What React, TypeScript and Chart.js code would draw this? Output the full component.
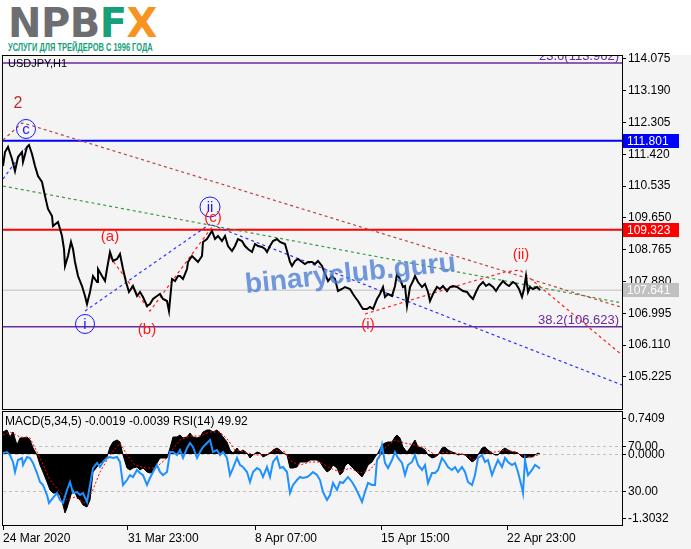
import { useEffect, useRef } from 'react';
import { Chart, registerables } from 'chart.js';

Chart.register(...registerables);

const FONT = '"Liberation Sans", Arial, sans-serif';
const PURPLE = '#6a2c9c';

// x values are H1 bar numbers counted from the first bar (24 Mar 2020)
const timeTickBars = [0, 125, 252, 378, 504];
const timeTickLabels = ['24 Mar 2020', '31 Mar 23:00', '8 Apr 07:00', '15 Apr 15:00', '22 Apr 23:00'];

const priceTicks = [114.075, 113.19, 112.305, 111.42, 110.535, 109.65, 108.765, 107.88, 106.995, 106.11, 105.225];

// USDJPY H1 close
const closeBars = [
  0, 2, 5, 9, 12, 15, 19, 20, 24, 26,
  29, 32, 35, 39, 42, 45, 49, 50, 55, 59,
  61, 62, 65, 68, 70, 72, 75, 79, 82, 84,
  87, 90, 94, 95, 99, 102, 104, 107, 110, 114,
  117, 120, 123, 126, 130, 134, 137, 140, 144, 147,
  150, 154, 157, 160, 164, 166, 169, 172, 175, 177,
  180, 184, 185, 189, 192, 195, 199, 200, 204, 207,
  209, 212, 215, 219, 222, 225, 229, 232, 235, 239,
  242, 245, 249, 252, 255, 259, 262, 264, 267, 270,
  274, 277, 282, 284, 287, 289, 292, 295, 299, 302,
  305, 309, 312, 315, 319, 322, 325, 329, 332, 335,
  339, 342, 347, 350, 352, 355, 358, 360, 364, 367,
  370, 374, 377, 380, 382, 385, 389, 392, 394, 397,
  400, 402, 404, 407, 410, 412, 415, 419, 422, 425,
  427, 430, 434, 437, 440, 444, 447, 450, 454, 457,
  460, 464, 467, 470, 473, 476, 480, 483, 486, 490,
  493, 496, 500, 503, 506, 510, 513, 516, 519, 521,
  523, 525, 527, 530, 534, 537,
];
const closePrices = [
  111.097, 111.487, 111.626, 111.292, 110.958, 111.347, 111.487, 111.208, 111.626, 111.681,
  111.431, 111.097, 110.819, 110.652, 110.262, 109.9, 109.705, 109.427, 109.538, 109.149,
  108.787, 108.314, 108.592, 108.982, 108.787, 108.425, 108.035, 107.757, 107.479, 107.256,
  107.59, 108.035, 107.868, 108.23, 108.035, 107.896, 108.23, 108.703, 108.453, 108.509,
  108.648, 108.23, 107.868, 107.59, 107.757, 107.479, 107.59, 107.451, 107.2, 107.256,
  107.395, 107.479, 107.534, 107.395, 107.34, 107.061, 107.952, 107.896, 108.035, 108.035,
  107.952, 108.23, 108.425, 108.592, 108.509, 108.425, 108.592, 108.982, 109.065, 109.204,
  109.288, 109.065, 109.149, 109.01, 109.149, 108.87, 108.731, 108.87, 109.065, 109.01,
  108.87, 108.787, 108.703, 108.926, 108.87, 108.843, 108.787, 108.703, 108.87, 109.01,
  109.065, 108.982, 108.926, 108.731, 108.425, 108.314, 108.453, 108.509, 108.425, 108.369,
  108.425, 108.425, 108.369, 108.453, 108.314, 108.091, 107.896, 108.035, 107.952, 107.618,
  107.674, 107.729, 107.674, 107.534, 107.451, 107.34, 107.2, 107.117, 107.117, 107.173,
  107.117, 107.395, 107.534, 107.729, 107.451, 107.534, 107.479, 107.757, 108.091, 107.952,
  107.729, 107.757, 107.2, 107.729, 107.896, 108.035, 107.868, 107.729, 107.813, 107.59,
  107.34, 107.534, 107.729, 107.674, 107.757, 107.618, 107.729, 107.757, 107.729, 107.674,
  107.618, 107.59, 107.479, 107.395, 107.59, 107.757, 107.868, 107.757, 107.813, 107.729,
  107.618, 107.757, 107.896, 107.813, 107.757, 107.868, 107.813, 107.674, 107.451, 107.674,
  108.035, 107.59, 107.729, 107.674, 107.729, 107.641,
];

// horizontal levels: fib 23.6, resistance, support, bid, fib 38.2
const levelPrices = [113.962, 111.801, 109.323, 107.641, 106.623];
const levelColors = [PURPLE, '#0000ff', '#ff0000', '#c0c0c0', PURPLE];
const levelWidths = [1.5, 2, 2, 1, 1.5];
const levelBoxed = [false, true, true, true, false];
const fibTexts = ['23.6(113.962)', '38.2(106.623)'];
const fibPrices = [113.962, 106.623];

// dotted wave / trend lines
const brownBars = [0, 19, 30, 619];
const brownPrices = [111.821, 112.294, 112.21, 107.162];
const greenBars = [0, 619];
const greenPrices = [110.54, 107.284];
const blueStartBars = [0, 25];
const blueStartPrices = [110.735, 111.681];
const blueUpBars = [82, 207];
const blueUpPrices = [107.061, 109.483];
const blueDownBars = [209, 619];
const blueDownPrices = [109.455, 105.002];
const redAbBars = [107, 147, 209];
const redAbPrices = [108.564, 107.061, 109.399];
const redTailBars = [362, 467, 502, 517, 619];
const redTailPrices = [106.978, 107.868, 108.147, 108.202, 105.837];

// wave labels
const waveTexts = ['2', 'c', '(a)', 'i', '(b)', 'ii', '(c)', '(i)', '(ii)'];
const waveBars = [15, 23, 107, 82, 144, 207, 210, 365, 518];
const wavePrices = [112.823, 112.127, 109.121, 106.7, 106.533, 109.956, 109.65, 106.672, 108.62];

// MACD(5,34,5) main
const macdBars = [
  0, 4, 7, 10, 14, 17, 20, 24, 27, 30,
  34, 37, 40, 44, 47, 50, 54, 57, 60, 62,
  64, 67, 70, 74, 77, 80, 84, 87, 90, 94,
  97, 100, 104, 107, 110, 114, 117, 120, 124, 127,
  130, 134, 137, 140, 144, 147, 150, 154, 157, 160,
  164, 167, 170, 174, 177, 180, 184, 187, 190, 194,
  197, 200, 204, 207, 210, 214, 217, 220, 224, 227,
  230, 234, 237, 240, 244, 247, 250, 254, 257, 260,
  264, 267, 270, 274, 277, 280, 284, 287, 290, 294,
  297, 300, 304, 307, 310, 314, 317, 320, 324, 327,
  330, 334, 337, 340, 342, 345, 349, 352, 355, 359,
  362, 365, 369, 372, 375, 379, 382, 385, 389, 392,
  394, 397, 400, 404, 407, 410, 412, 415, 419, 422,
  425, 429, 432, 435, 439, 442, 445, 449, 452, 455,
  459, 462, 465, 469, 472, 475, 479, 482, 485, 489,
  492, 495, 499, 502, 505, 509, 512, 515, 519, 522,
  525, 529, 532, 535, 537,
];
const macdValues = [
  0.449, 0.49, 0.347, 0.449, 0.184, 0.327, 0.327, 0.347, 0.286, 0.122,
  -0.02, -0.224, -0.367, -0.571, -0.735, -0.796, -0.796, -0.837, -1.041, -1.204,
  -1.102, -0.898, -0.694, -0.878, -0.939, -1.041, -1.082, -0.939, -0.367, -0.265,
  -0.184, -0.163, -0.061, 0.143, 0.245, 0.286, 0.245, -0.02, -0.286, -0.327,
  -0.286, -0.265, -0.327, -0.286, -0.367, -0.388, -0.367, -0.184, -0.082, -0.082,
  -0.082, 0.122, 0.347, 0.347, 0.388, 0.327, 0.347, 0.429, 0.347, 0.327,
  0.347, 0.449, 0.49, 0.49, 0.449, 0.49, 0.429, 0.347, 0.245, 0.082,
  0.02, 0.122, 0.041, 0.082, 0.02, -0.082, -0.02, 0.041, 0.02, -0.061,
  -0.02, 0.02, 0.082, 0.122, 0.082, 0.02, -0.02, -0.286, -0.286, -0.265,
  -0.163, -0.163, -0.163, -0.122, -0.122, -0.122, -0.163, -0.265, -0.367, -0.327,
  -0.224, -0.286, -0.429, -0.367, -0.245, -0.184, -0.265, -0.327, -0.388, -0.469,
  -0.367, -0.224, -0.163, -0.061, 0.02, 0.184, 0.224, 0.245, 0.245, 0.347,
  0.388, 0.327, 0.143, 0.041, 0.122, 0.224, 0.286, 0.143, 0.122, 0.082,
  -0.02, -0.082, -0.061, -0.02, 0.122, 0.143, 0.082, 0.041, 0.02, -0.02,
  0.0, -0.02, -0.082, -0.163, -0.122, -0.02, 0.122, 0.143, 0.082, 0.02,
  -0.02, -0.02, 0.082, 0.122, 0.082, 0.041, 0.041, 0.02, -0.061, -0.082,
  -0.061, -0.061, -0.02, 0.02, -0.002,
];

// MACD signal
const signalBars = [
  0, 7, 17, 27, 37, 47, 57, 64, 72, 82,
  89, 97, 107, 117, 124, 132, 142, 152, 162, 169,
  177, 187, 197, 207, 217, 225, 232, 242, 252, 262,
  272, 282, 289, 297, 307, 317, 327, 337, 347, 357,
  367, 375, 382, 392, 402, 412, 422, 432, 442, 452,
  462, 472, 482, 492, 502, 512, 522, 530, 537,
];
const signalValues = [
  0.388, 0.449, 0.347, 0.327, -0.082, -0.531, -0.776, -0.939, -0.878, -1.0,
  -0.776, -0.367, -0.02, 0.224, -0.02, -0.224, -0.286, -0.286, -0.122, 0.082,
  0.286, 0.367, 0.367, 0.449, 0.449, 0.286, 0.082, 0.041, -0.02, -0.02,
  0.082, 0.041, -0.163, -0.224, -0.163, -0.163, -0.286, -0.367, -0.286, -0.388,
  -0.327, -0.122, 0.122, 0.286, 0.224, 0.184, 0.122, -0.02, 0.041, 0.02,
  -0.02, -0.122, 0.041, 0.041, 0.082, 0.041, -0.041, -0.061, -0.004,
];

// RSI(14)
const rsiBars = [
  0, 4, 7, 10, 12, 15, 19, 20, 24, 27,
  30, 34, 37, 40, 44, 46, 50, 54, 57, 60,
  64, 67, 70, 74, 77, 80, 84, 87, 90, 94,
  97, 100, 104, 107, 110, 114, 117, 120, 124, 127,
  130, 134, 137, 140, 144, 147, 150, 154, 157, 160,
  164, 167, 170, 174, 177, 180, 184, 187, 190, 194,
  197, 200, 204, 207, 210, 214, 217, 220, 224, 227,
  230, 234, 237, 240, 244, 247, 250, 254, 257, 260,
  264, 267, 270, 274, 277, 280, 284, 287, 290, 294,
  297, 300, 304, 307, 310, 314, 317, 320, 324, 327,
  330, 334, 337, 340, 345, 349, 352, 355, 359, 362,
  365, 369, 372, 374, 377, 379, 382, 385, 389, 392,
  395, 399, 402, 405, 409, 412, 415, 419, 422, 425,
  429, 432, 435, 439, 442, 445, 449, 452, 455, 459,
  462, 465, 469, 472, 475, 479, 482, 485, 489, 492,
  495, 499, 502, 505, 509, 512, 515, 519, 520, 522,
  525, 529, 532, 535, 537,
];
const rsiValues = [
  63.7, 64.6, 61.9, 55.8, 46.9, 57.5, 59.3, 53.1, 60.2, 59.3,
  54.9, 46.0, 38.1, 35.4, 26.5, 19.5, 23.9, 28.3, 22.1, 19.5,
  31.0, 38.1, 28.3, 29.2, 26.5, 28.3, 20.4, 35.4, 50.4, 54.9,
  51.3, 55.8, 59.3, 60.2, 59.3, 60.2, 55.8, 35.4, 39.8, 44.2,
  42.5, 48.7, 46.0, 44.2, 35.4, 41.6, 46.9, 53.1, 46.9, 44.2,
  46.9, 64.6, 64.6, 61.9, 66.4, 59.3, 68.1, 72.6, 69.0, 59.3,
  64.6, 69.0, 72.6, 75.2, 64.6, 66.4, 61.9, 64.6, 59.3, 44.2,
  50.4, 59.3, 53.1, 51.3, 46.9, 38.1, 46.9, 50.4, 48.7, 42.5,
  51.3, 42.5, 55.8, 60.2, 50.4, 51.3, 46.9, 28.3, 35.4, 39.8,
  42.5, 41.6, 42.5, 44.2, 46.9, 44.2, 39.8, 29.2, 22.1, 26.5,
  37.2, 31.0, 38.1, 37.2, 42.5, 38.1, 33.6, 28.3, 20.4, 29.2,
  37.2, 35.4, 35.4, 57.5, 61.9, 70.8, 54.9, 50.4, 57.5, 64.6,
  59.3, 54.9, 44.2, 53.1, 55.8, 61.9, 53.1, 48.7, 53.1, 37.2,
  46.0, 46.0, 48.7, 59.3, 55.8, 51.3, 48.7, 51.3, 46.9, 51.3,
  46.9, 38.1, 35.4, 44.2, 59.3, 61.9, 55.8, 57.5, 44.2, 51.3,
  57.5, 51.3, 59.3, 55.8, 53.1, 54.9, 46.9, 32.7, 28.3, 57.5,
  44.2, 48.7, 53.1, 51.3, 49.9,
];

// labels on the indicator scale
const subLabelTexts = ['0.7409', '70.00', '0.0000', '30.00', '-1.3032'];
const subLabelAxes = ['yMacd', 'yRsi', 'yMacd', 'yRsi', 'yMacd'];
const subLabelValues = [0.7409, 70, 0, 30, -1.3032];

const LAST_BAR = 619;

const pts = (xs: number[], ys: number[]) => xs.map((x, i) => ({ x, y: ys[i] }));

const dotted = (xs: number[], ys: number[], color: string) => ({
  data: pts(xs, ys),
  borderColor: color,
  borderWidth: 1.2,
  borderDash: [3, 3],
  pointRadius: 0,
  fill: false,
  order: 4,
});

const mainDecor = {
  id: 'mainDecor',
  afterDatasetsDraw(chart: any) {
    const { ctx, chartArea: a, scales } = chart;
    const xs = scales.x;
    const ys = scales.y;
    ctx.save();
    ctx.beginPath();
    ctx.rect(a.left, a.top, a.right - a.left, a.bottom - a.top);
    ctx.clip();

    // fibo level captions
    ctx.font = `13px ${FONT}`;
    ctx.fillStyle = PURPLE;
    ctx.textAlign = 'right';
    ctx.textBaseline = 'alphabetic';
    fibTexts.forEach((t, i) => ctx.fillText(t, a.right - 3, ys.getPixelForValue(fibPrices[i]) - 3));

    // watermark
    ctx.save();
    ctx.translate(a.left + 243, a.top + 237);
    ctx.rotate((-6 * Math.PI) / 180);
    ctx.font = `bold 28px ${FONT}`;
    ctx.fillStyle = 'rgba(74, 124, 212, 0.78)';
    ctx.textAlign = 'left';
    ctx.fillText('binaryclub.guru', 0, 0);
    ctx.restore();

    // wave marks
    waveTexts.forEach((t, i) => {
      const px = xs.getPixelForValue(waveBars[i]);
      const py = ys.getPixelForValue(wavePrices[i]);
      const circled = !t.startsWith('(') && t !== '2';
      ctx.textAlign = 'center';
      ctx.textBaseline = 'middle';
      if (circled) {
        ctx.strokeStyle = '#1a1aff';
        ctx.lineWidth = 1;
        ctx.beginPath();
        ctx.arc(px, py, t === 'ii' ? 10 : 9.5, 0, Math.PI * 2);
        ctx.stroke();
        ctx.fillStyle = '#1a1aff';
        ctx.font = `15px ${FONT}`;
        ctx.fillText(t, px, py + 1);
      } else {
        ctx.fillStyle = t === '2' ? '#b8312f' : '#ff1a1a';
        ctx.font = `${t === '2' ? 16 : 15}px ${FONT}`;
        ctx.fillText(t, px, py);
      }
    });
    ctx.restore();

    ctx.save();
    ctx.font = `11px ${FONT}`;
    ctx.fillStyle = '#000';
    ctx.textAlign = 'left';
    ctx.textBaseline = 'middle';
    ctx.fillText('USDJPY,H1', a.left + 5, a.top + 8);
    ctx.restore();
  },
  afterDraw(chart: any) {
    const { ctx, chartArea: a, scales } = chart;
    ctx.save();
    ctx.strokeStyle = '#000';
    ctx.lineWidth = 1;
    ctx.strokeRect(a.left - 0.5, a.top - 0.5, a.right - a.left + 1, a.bottom - a.top + 1);
    ctx.font = `12px ${FONT}`;
    ctx.textAlign = 'left';
    ctx.textBaseline = 'middle';
    levelPrices.forEach((p, i) => {
      if (!levelBoxed[i]) return;
      const py = Math.round(scales.y.getPixelForValue(p));
      ctx.fillStyle = levelColors[i];
      ctx.fillRect(a.right + 1, py - 7, 56, 14);
      ctx.fillStyle = '#fff';
      ctx.fillText(p.toFixed(3), a.right + 5, py + 0.5);
    });
    ctx.restore();
  },
};

const subDecor = {
  id: 'subDecor',
  beforeDatasetsDraw(chart: any) {
    const { ctx, chartArea: a, scales } = chart;
    ctx.save();
    ctx.strokeStyle = '#c0c0c0';
    ctx.lineWidth = 1;
    ctx.setLineDash([3, 3]);
    const lv = [scales.yRsi.getPixelForValue(70), scales.yMacd.getPixelForValue(0), scales.yRsi.getPixelForValue(30)];
    lv.forEach((py) => {
      const y = Math.round(py) + 0.5;
      ctx.beginPath();
      ctx.moveTo(a.left, y);
      ctx.lineTo(a.right, y);
      ctx.stroke();
    });
    ctx.restore();
  },
  afterDatasetsDraw(chart: any) {
    const { ctx, chartArea: a } = chart;
    ctx.save();
    ctx.font = `12px ${FONT}`;
    ctx.fillStyle = '#000';
    ctx.textAlign = 'left';
    ctx.textBaseline = 'middle';
    ctx.fillText('MACD(5,34,5) -0.0019 -0.0039 RSI(14) 49.92', a.left + 2, a.top + 10);
    ctx.restore();
  },
  afterDraw(chart: any) {
    const { ctx, chartArea: a, scales } = chart;
    ctx.save();
    ctx.strokeStyle = '#000';
    ctx.lineWidth = 1;
    ctx.strokeRect(a.left - 0.5, a.top - 0.5, a.right - a.left + 1, a.bottom - a.top + 1);
    ctx.font = `12px ${FONT}`;
    ctx.fillStyle = '#000';
    ctx.textAlign = 'left';
    ctx.textBaseline = 'middle';
    subLabelTexts.forEach((t, i) => {
      const py = Math.round(scales[subLabelAxes[i]].getPixelForValue(subLabelValues[i])) + 0.5;
      ctx.beginPath();
      ctx.moveTo(a.right, py);
      ctx.lineTo(a.right + 4, py);
      ctx.stroke();
      ctx.fillText(t, a.right + 6, py);
    });
    ctx.restore();
  },
};

export default function App() {
  const mainRef = useRef<HTMLCanvasElement>(null);
  const subRef = useRef<HTMLCanvasElement>(null);

  useEffect(() => {
    if (!mainRef.current || !subRef.current) return;
    Chart.defaults.font.family = FONT;

    const main = new Chart(mainRef.current, {
      type: 'line',
      data: {
        datasets: [
          {
            label: 'USDJPY',
            data: pts(closeBars, closePrices),
            borderColor: '#000',
            borderWidth: 2,
            pointRadius: 0,
            fill: false,
            order: 0,
          },
          ...levelPrices.map((p, i) => ({
            data: [{ x: 0, y: p }, { x: LAST_BAR, y: p }],
            borderColor: levelColors[i],
            borderWidth: levelWidths[i],
            pointRadius: 0,
            fill: false,
            order: 5,
          })),
          dotted(brownBars, brownPrices, '#b5463f'),
          dotted(greenBars, greenPrices, '#3a9a3a'),
          dotted(blueStartBars, blueStartPrices, '#3030ff'),
          dotted(blueUpBars, blueUpPrices, '#3030ff'),
          dotted(blueDownBars, blueDownPrices, '#3030ff'),
          dotted(redAbBars, redAbPrices, '#ff2020'),
          dotted(redTailBars, redTailPrices, '#ff2020'),
        ] as any,
      },
      options: {
        animation: false,
        responsive: true,
        maintainAspectRatio: false,
        events: [],
        layout: { padding: { left: 3, top: 6, right: 0, bottom: 3 } },
        plugins: { legend: { display: false }, tooltip: { enabled: false } },
        scales: {
          x: { type: 'linear', display: false, min: 0, max: LAST_BAR },
          y: {
            type: 'linear',
            position: 'right',
            min: 104.334,
            max: 114.158,
            afterBuildTicks: (s: any) => {
              s.ticks = priceTicks.map((v) => ({ value: v }));
            },
            afterFit: (s: any) => {
              s.width = 69;
              s.paddingTop = 0;
              s.paddingBottom = 0;
            },
            grid: { drawOnChartArea: false, drawTicks: true, tickLength: 4, tickColor: '#000' },
            border: { display: true, color: '#000' },
            ticks: {
              autoSkip: false,
              padding: 2,
              color: '#000',
              font: { family: FONT, size: 12 },
              callback: (v: any) => Number(v).toFixed(3),
            },
          },
        },
      },
      plugins: [mainDecor],
    } as any);

    const sub = new Chart(subRef.current, {
      type: 'line',
      data: {
        datasets: [
          {
            label: 'RSI(14)',
            data: pts(rsiBars, rsiValues),
            yAxisID: 'yRsi',
            borderColor: '#1e90ff',
            borderWidth: 2,
            pointRadius: 0,
            fill: false,
            order: 1,
          },
          {
            label: 'Signal',
            data: pts(signalBars, signalValues),
            yAxisID: 'yMacd',
            borderColor: '#ff0000',
            borderWidth: 1,
            borderDash: [2, 2],
            pointRadius: 0,
            fill: false,
            order: 2,
          },
          {
            label: 'MACD',
            data: pts(macdBars, macdValues),
            yAxisID: 'yMacd',
            borderColor: '#000',
            backgroundColor: '#000',
            borderWidth: 1,
            pointRadius: 0,
            fill: { value: 0 },
            order: 3,
          },
        ],
      },
      options: {
        animation: false,
        responsive: true,
        maintainAspectRatio: false,
        events: [],
        layout: { padding: { left: 3, top: 2, right: 69, bottom: 0 } },
        plugins: { legend: { display: false }, tooltip: { enabled: false } },
        scales: {
          x: {
            type: 'linear',
            position: 'bottom',
            min: 0,
            max: LAST_BAR,
            afterBuildTicks: (s: any) => {
              s.ticks = timeTickBars.map((v) => ({ value: v }));
            },
            afterFit: (s: any) => {
              s.height = 24;
              s.paddingLeft = 0;
              s.paddingRight = 0;
            },
            grid: { drawOnChartArea: false, drawTicks: true, tickLength: 5, tickColor: '#000' },
            border: { display: true, color: '#000' },
            ticks: {
              autoSkip: false,
              maxRotation: 0,
              minRotation: 0,
              align: 'start',
              padding: 1,
              color: '#000',
              font: { family: FONT, size: 12 },
              callback: (_v: any, i: number) => timeTickLabels[i],
            },
          },
          yRsi: { type: 'linear', axis: 'y', position: 'right', display: false, min: 0, max: 100 },
          yMacd: { type: 'linear', axis: 'y', position: 'right', display: false, min: -1.449, max: 0.857 },
        },
      },
      plugins: [subDecor],
    } as any);

    return () => {
      main.destroy();
      sub.destroy();
    };
  }, []);

  return (
    <div
      style={{
        position: 'fixed',
        left: 0,
        top: 0,
        width: 691,
        height: 549,
        background: '#f4f4f4',
        overflow: 'hidden',
      }}
    >
      <div style={{ position: 'absolute', left: 0, top: 0, width: 691, height: 55, background: '#fff' }}>
        <div
          style={{
            position: 'absolute',
            left: 8,
            top: 3,
            fontFamily: '"DejaVu Sans", sans-serif',
            fontWeight: 700,
            fontSize: 40,
            lineHeight: '40px',
            letterSpacing: -0.5,
            whiteSpace: 'nowrap',
          }}
        >
          <span style={{ color: '#6d6e71' }}>NPB</span>
          <span style={{ color: '#16a079' }}>F</span>
          <span style={{ color: '#f7931e' }}>X</span>
        </div>
        <div
          style={{
            position: 'absolute',
            left: 8,
            top: 42,
            fontFamily: FONT,
            fontWeight: 700,
            fontSize: 11,
            lineHeight: '11px',
            color: '#16a079',
            whiteSpace: 'nowrap',
            transform: 'scaleX(0.68)',
            transformOrigin: 'left top',
          }}
        >
          УСЛУГИ ДЛЯ ТРЕЙДЕРОВ С 1996 ГОДА
        </div>
      </div>
      <div style={{ position: 'absolute', left: 0, top: 50, width: 691, height: 362 }}>
        <canvas ref={mainRef}></canvas>
      </div>
      <div style={{ position: 'absolute', left: 0, top: 410, width: 691, height: 139 }}>
        <canvas ref={subRef}></canvas>
      </div>
    </div>
  );
}
